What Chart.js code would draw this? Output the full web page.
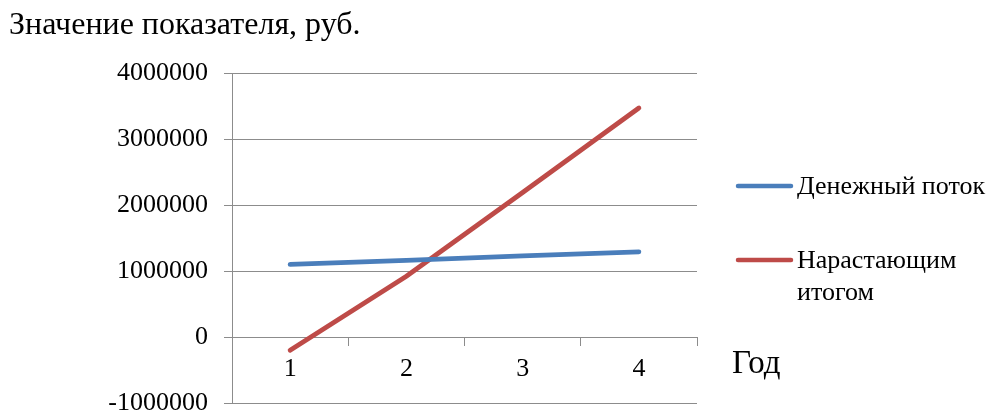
<!DOCTYPE html>
<html>
<head>
<meta charset="utf-8">
<script src="https://cdn.jsdelivr.net/npm/chart.js@4/dist/chart.umd.min.js"></script>
<style>
  html, body { margin: 0; padding: 0; background: #fff; }
  #wrap { width: 991px; height: 412px; position: relative; }
</style>
</head>
<body>
<div id="wrap"><canvas id="c" width="991" height="412"></canvas></div>
<script>
// Годы расчётного периода
const years = ['1', '2', '3', '4'];
// Денежный поток по годам, руб.
const cashFlow = [1100000, 1160000, 1230000, 1290000];
// Денежный поток нарастающим итогом, руб.
const cumulative = [-200000, 920000, 2190000, 3470000];
// Шкала значений
const yMin = -1000000;
const yMax = 4000000;
const yStep = 1000000;

const seriesNames = ['Денежный поток', 'Нарастающим итогом'];
const seriesColors = ['#4A7EBB', '#BE4B48'];

const FONT = "'Liberation Serif', 'Times New Roman', serif";
const GRID = '#8c8c8c';

// Подписи вне области построения: заголовок оси, легенда, «Год»
const annotations = {
  id: 'annotations',
  afterDraw(chart) {
    const ctx = chart.ctx;
    ctx.save();
    ctx.fillStyle = '#000';
    ctx.textAlign = 'left';
    ctx.textBaseline = 'alphabetic';
    ctx.font = '32px ' + FONT;
    ctx.fillText('Значение показателя, руб.', 9, 34);

    ctx.font = '33px ' + FONT;
    ctx.fillText('Год', 732, 373);

    // Легенда
    const rows = [
      { y: 186, lines: ['Денежный поток'] },
      { y: 260, lines: ['Нарастающим', 'итогом'] }
    ];
    ctx.font = '26px ' + FONT;
    ctx.textBaseline = 'middle';
    rows.forEach((r, i) => {
      ctx.strokeStyle = seriesColors[i];
      ctx.lineWidth = 4.5;
      ctx.lineCap = 'round';
      ctx.beginPath();
      ctx.moveTo(738, r.y);
      ctx.lineTo(791, r.y);
      ctx.stroke();
      r.lines.forEach((t, k) => {
        ctx.fillText(t, 797, r.y + 1 + k * 32);
      });
    });
    ctx.restore();
  }
};

new Chart(document.getElementById('c'), {
  type: 'line',
  data: {
    labels: years,
    datasets: [
      {
        label: seriesNames[0],
        data: cashFlow,
        borderColor: seriesColors[0],
        backgroundColor: seriesColors[0],
        borderWidth: 4.8,
        borderCapStyle: 'round',
        pointRadius: 0,
        tension: 0
      },
      {
        label: seriesNames[1],
        data: cumulative,
        borderColor: seriesColors[1],
        backgroundColor: seriesColors[1],
        borderWidth: 4.8,
        borderCapStyle: 'round',
        pointRadius: 0,
        tension: 0
      }
    ]
  },
  options: {
    responsive: false,
    animation: false,
    devicePixelRatio: 1,
    layout: { padding: { left: 0, top: 73, right: 294, bottom: 9 } },
    plugins: {
      legend: { display: false },
      tooltip: { enabled: false },
      title: { display: false }
    },
    scales: {
      x: {
        type: 'category',
        position: { y: 0 },
        offset: true,
        grid: {
          offset: true,
          drawOnChartArea: false,
          drawTicks: true,
          tickLength: 8,
          color: GRID,
          lineWidth: 1
        },
        border: { color: GRID, width: 1 },
        ticks: {
          color: '#000',
          font: { family: FONT, size: 26 },
          padding: 9,
          maxRotation: 0,
          autoSkip: false
        },
        afterFit(s) { s.paddingLeft = 0; s.paddingRight = 0; }
      },
      y: {
        min: yMin,
        max: yMax,
        grid: {
          color: GRID,
          lineWidth: 1,
          tickLength: 8
        },
        border: { color: GRID, width: 1 },
        ticks: {
          stepSize: yStep,
          color: '#000',
          font: { family: FONT, size: 26 },
          padding: 16,
          callback: v => String(v)
        },
        afterFit(s) { s.width = 232; s.paddingTop = 0; s.paddingBottom = 0; }
      }
    }
  },
  plugins: [annotations]
});
</script>
</body>
</html>
